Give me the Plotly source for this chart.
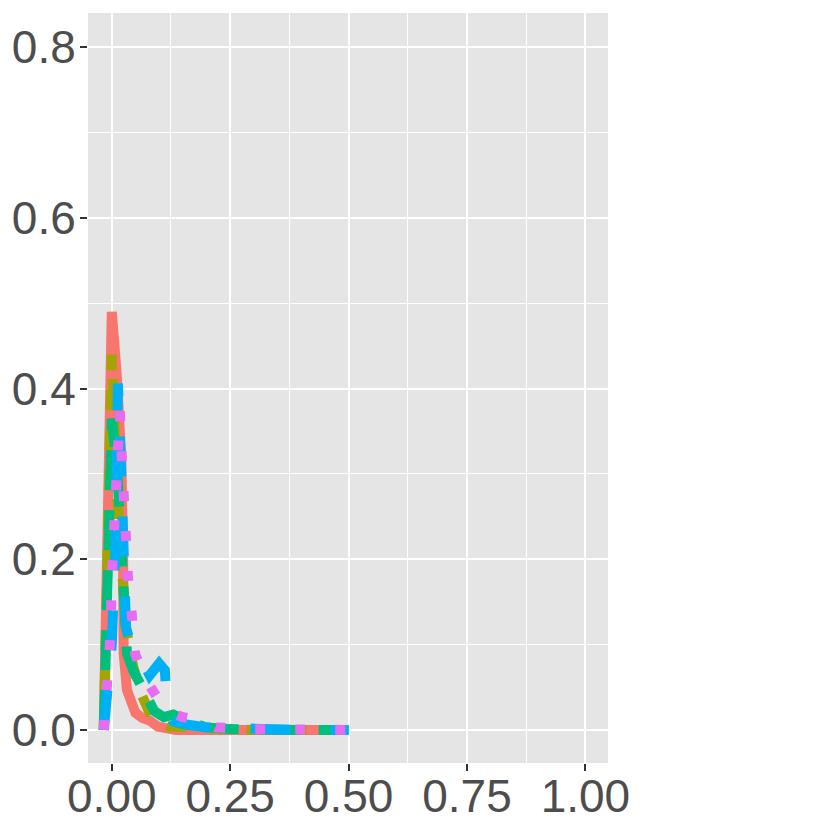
import plotly.graph_objects as go

# Series data
red_x = [-0.017, 0.0, 0.01, 0.02, 0.024, 0.025, 0.032, 0.04, 0.05, 0.065, 0.08, 0.097, 0.115, 0.135, 0.2, 0.3, 0.4, 0.5]
red_y = [0.0, 0.49, 0.42, 0.32, 0.2, 0.09, 0.047, 0.03, 0.02, 0.014, 0.011, 0.004, 0.002, 0.0, 0.0, 0.0, 0.0, 0.0]

olive_x = [-0.017, 0.0, 0.012, 0.02, 0.03, 0.045, 0.06, 0.08, 0.1, 0.12, 0.15, 0.2, 0.3, 0.4, 0.5]
olive_y = [0.0, 0.44, 0.27, 0.2, 0.12, 0.075, 0.045, 0.02, 0.008, 0.004, 0.003, 0.002, 0.0, 0.0, 0.0]

green_x = [-0.017, 0.0, 0.012, 0.02, 0.025, 0.032, 0.045, 0.06, 0.075, 0.09, 0.11, 0.13, 0.16, 0.2, 0.25, 0.3, 0.4, 0.5]
green_y = [0.0, 0.365, 0.3, 0.22, 0.15, 0.09, 0.07, 0.055, 0.04, 0.022, 0.015, 0.018, 0.01, 0.003, 0.001, 0.0, 0.0, 0.0]

blue_x = [-0.017, -0.008, 0.0, 0.008, 0.013, 0.02, 0.025, 0.03, 0.04, 0.055, 0.065, 0.08, 0.1, 0.112, 0.118, 0.13, 0.15, 0.2, 0.25, 0.3, 0.4, 0.5]
blue_y = [0.0, 0.05, 0.1, 0.22, 0.406, 0.3, 0.2, 0.12, 0.1, 0.09, 0.08, 0.064, 0.078, 0.07, 0.02, 0.01, 0.007, 0.003, 0.002, 0.001, 0.0, 0.0]

magenta_x = [-0.017, -0.01, -0.004, 0.001, 0.006, 0.01, 0.017, 0.021, 0.025, 0.03, 0.034, 0.042, 0.049, 0.065, 0.084, 0.105, 0.126, 0.15, 0.19, 0.22, 0.3, 0.4, 0.5]
magenta_y = [0.0, 0.05, 0.1, 0.19, 0.26, 0.32, 0.374, 0.322, 0.273, 0.227, 0.18, 0.137, 0.09, 0.065, 0.049, 0.03, 0.02, 0.015, 0.011, 0.003, 0.001, 0.0, 0.0]

x_ticks = [0.0, 0.25, 0.5, 0.75, 1.0]
x_tick_labels = ["0.00", "0.25", "0.50", "0.75", "1.00"]
y_ticks = [0.0, 0.2, 0.4, 0.6, 0.8]
y_tick_labels = ["0.0", "0.2", "0.4", "0.6", "0.8"]

series = [
    (red_x, red_y, "#F8766D", "solid"),
    (olive_x, olive_y, "#A3A500", "20px,20px"),
    (green_x, green_y, "#00BF7D", "40px,20px"),
    (blue_x, blue_y, "#00B0F6", "40px,40px"),
    (magenta_x, magenta_y, "#E76BF3", "10px,30px"),
]

fig = go.Figure()
for xs, ys, col, dash in series:
    fig.add_trace(go.Scatter(x=xs, y=ys, mode="lines",
                             line=dict(color=col, width=10, dash=dash),
                             showlegend=False, hoverinfo="skip"))

font = dict(family="Liberation Sans, Arial, sans-serif", size=46, color="#4D4D4D")

fig.update_layout(
    width=815, height=815,
    margin=dict(l=80, r=215, t=5, b=60),
    paper_bgcolor="white",
    plot_bgcolor="#E5E5E5",
    showlegend=False,
    font=font,
)
fig.update_xaxes(
    range=[-0.0502, 1.0477], automargin=False,
    tickvals=x_ticks, ticktext=x_tick_labels,
    ticks="outside", ticklen=7, tickwidth=2, tickcolor="#333333",
    ticklabelstandoff=-14,
    showgrid=True, gridcolor="white", gridwidth=2,
    minor=dict(tickvals=[0.125, 0.375, 0.625, 0.875], showgrid=True,
               gridcolor="white", gridwidth=1, ticks=""),
    zeroline=False, showline=False, tickfont=font,
)
fig.update_yaxes(
    range=[-0.0387, 0.8402], automargin=False,
    tickvals=y_ticks, ticktext=y_tick_labels,
    ticks="outside", ticklen=7, tickwidth=2, tickcolor="#333333",
    ticklabelstandoff=-5,
    showgrid=True, gridcolor="white", gridwidth=2,
    minor=dict(tickvals=[0.1, 0.3, 0.5, 0.7], showgrid=True,
               gridcolor="white", gridwidth=1, ticks=""),
    zeroline=False, showline=False, tickfont=font,
)

fig.write_html("out.html")
